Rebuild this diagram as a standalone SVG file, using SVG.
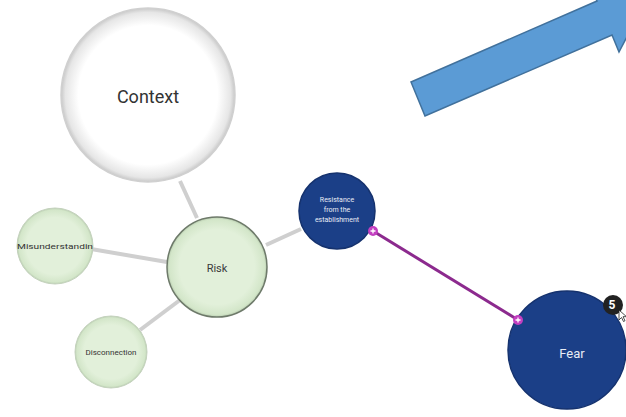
<svg xmlns="http://www.w3.org/2000/svg" width="626" height="417" viewBox="0 0 626 417">
  <defs>
    <radialGradient id="gWhite" cx="50%" cy="50%" r="50%">
      <stop offset="0.8" stop-color="#ffffff"/>
      <stop offset="0.95" stop-color="#e6e6e6"/>
      <stop offset="1" stop-color="#c8c8c8"/>
    </radialGradient>
    <radialGradient id="gGreen" cx="50%" cy="50%" r="50%">
      <stop offset="0.75" stop-color="#e2f0da"/>
      <stop offset="0.95" stop-color="#d3e6c9"/>
      <stop offset="1" stop-color="#b9cdb0"/>
    </radialGradient>
  </defs>
  <style>
    .edge { stroke: #cfcfcf; stroke-width: 4; fill: none; }
    .link { stroke: #8c2a8e; stroke-width: 3; fill: none; }
    .lbl { font-family: Roboto, "Liberation Sans", sans-serif; text-anchor: middle; dominant-baseline: central; }
    .dark { fill: #1b3f87; stroke: #15326e; stroke-width: 1.5; }
    .green { fill: url(#gGreen); }
    .plus { fill: #c23fc0; }
  </style>

  <!-- big blue arrow -->
  <polygon points="411,82 597,1 590,-15 646,0 619,52 612,35 425,116" fill="#5b9bd5" stroke="#41719c" stroke-width="1.5"/>

  <g id="connectors">
    <line class="edge" x1="180" y1="181" x2="197" y2="218"/>
    <line class="edge" x1="91" y1="249" x2="167" y2="262"/>
    <line class="edge" x1="140" y1="330" x2="180" y2="300"/>
    <line class="edge" x1="266" y1="245" x2="301" y2="229"/>
    <line class="link" x1="373" y1="231" x2="518" y2="320"/>
  </g>

  <g id="context">
    <circle cx="148" cy="95" r="87" fill="url(#gWhite)" stroke="#d0d0d0" stroke-width="1.5"/>
    <text class="lbl" x="148" y="96" font-size="18" fill="#333">Context</text>
  </g>

  <g id="risk">
    <circle class="green" cx="217" cy="267" r="50" stroke="#6e7a6a" stroke-width="1.5"/>
    <text class="lbl" x="217" y="268" font-size="11" fill="#3a3a3a">Risk</text>
  </g>

  <g id="misunderstanding">
    <circle class="green" cx="55" cy="246" r="38" stroke="#c4d2bd" stroke-width="1"/>
    <text class="lbl" x="55" y="246" font-size="8" fill="#333" textLength="76" lengthAdjust="spacingAndGlyphs">Misunderstandin</text>
  </g>

  <g id="disconnection">
    <circle class="green" cx="111" cy="352" r="36" stroke="#c4d2bd" stroke-width="1"/>
    <text class="lbl" x="111" y="352" font-size="8" fill="#333">Disconnection</text>
  </g>

  <g id="resistance">
    <circle class="dark" cx="337" cy="211" r="38"/>
    <text class="lbl" x="337" y="200" font-size="7" fill="#e8ecf5">Resistance</text>
    <text class="lbl" x="337" y="210" font-size="7" fill="#e8ecf5">from the</text>
    <text class="lbl" x="337" y="220" font-size="7" fill="#e8ecf5">establishment</text>
  </g>

  <g id="fear">
    <circle class="dark" cx="567" cy="350" r="59"/>
    <text class="lbl" x="572" y="353" font-size="13" fill="#e8ecf5">Fear</text>
    <circle cx="613" cy="305" r="10" fill="#222"/>
    <text class="lbl" x="612" y="305" font-size="12" font-weight="bold" fill="#fff">5</text>
    <path d="M619,310 l0,10 l2.5,-2.5 l2,4 l1.5,-0.8 l-2,-4 l3.5,0 z" fill="#fff" stroke="#222" stroke-width="0.8"/>
  </g>

  <!-- link end handles -->
  <g id="handles">
    <circle class="plus" cx="373" cy="231" r="5"/>
    <path d="M370.5,231 h5 M373,228.5 v5" stroke="#fff" stroke-width="1.3"/>
    <circle class="plus" cx="518" cy="320" r="5"/>
    <path d="M515.5,320 h5 M518,317.5 v5" stroke="#fff" stroke-width="1.3"/>
  </g>
</svg>
